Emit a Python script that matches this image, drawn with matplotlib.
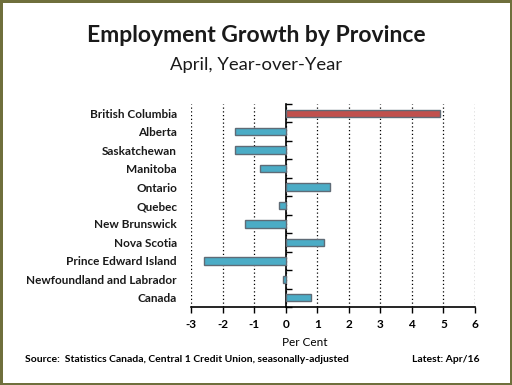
import matplotlib
matplotlib.use("Agg")
import matplotlib.pyplot as plt
import numpy as np

# data (per cent, April y/y)
provinces = ["British Columbia", "Alberta", "Saskatchewan", "Manitoba", "Ontario",
             "Quebec", "New Brunswick", "Nova Scotia", "Prince Edward Island",
             "Newfoundland and Labrador", "Canada"]
growth = [4.9, -1.6, -1.6, -0.8, 1.4, -0.2, -1.3, 1.2, -2.6, -0.1, 0.8]
x_ticks = [-3, -2, -1, 0, 1, 2, 3, 4, 5, 6]

plt.rcParams["font.family"] = ["Lato", "DejaVu Sans"]

fig = plt.figure(figsize=(5.12, 3.85), dpi=100)
fig.patch.set_facecolor("white")
fig.patch.set_edgecolor("#6f6f3c")
fig.patch.set_linewidth(2.5)

# plot area in pixels: x 191..475, y 104..307
W, H = 512, 385
ax = fig.add_axes([191 / W, 1 - 307 / H, (475 - 191) / W, (307 - 104) / H])

y = np.arange(len(provinces))
colors = ["#c0504d"] + ["#4bacc6"] * (len(provinces) - 1)
ax.barh(y, growth, height=0.4, color=colors, edgecolor="#5f6b76", linewidth=1.0, zorder=3)

ax.set_xlim(-3, 6)
ax.set_ylim(len(provinces) - 0.5, -0.5)
ax.set_xticks(x_ticks)
ax.set_xticklabels([str(t) for t in x_ticks], fontweight="bold", fontsize=8.5)
ax.set_yticks(y)
ax.set_yticklabels(provinces, fontweight="bold", fontsize=8.5, color="#1a1a1a")
ax.tick_params(axis="y", length=0, pad=10)
ax.tick_params(axis="x", direction="out", length=4, width=1, pad=5)

for s in ["top", "right", "left"]:
    ax.spines[s].set_visible(False)
ax.spines["bottom"].set_linewidth(1.2)

ax.grid(axis="x", color="black", linestyle=(0, (1, 2)), linewidth=0.9, zorder=0)

# zero axis with tick marks between categories
zero = ax.secondary_yaxis(3 / 9)
zero.set_yticks(np.arange(len(provinces) + 1) - 0.5)
zero.tick_params(labelleft=False, direction="in", length=4, width=1)
zero.spines["left"].set_linewidth(1.2)

fig.text(0.5, 1 - 35 / H, "Employment Growth by Province", ha="center", va="center",
         fontsize=16.5, fontweight="bold", color="#1a1a1a")
fig.text(0.5, 1 - 65 / H, "April, Year-over-Year", ha="center", va="center",
         fontsize=13.3, color="#1a1a1a")
fig.text(305 / W, 1 - 342 / H, "Per Cent", ha="center", va="center", fontsize=8.5)
fig.text(25 / W, 1 - 360 / H, "Source:  Statistics Canada, Central 1 Credit Union, seasonally-adjusted",
         ha="left", va="center", fontsize=7.5, fontweight="bold")
fig.text(480 / W, 1 - 360 / H, "Latest: Apr/16", ha="right", va="center",
         fontsize=7.5, fontweight="bold")

fig.savefig("out.png", dpi=100)
